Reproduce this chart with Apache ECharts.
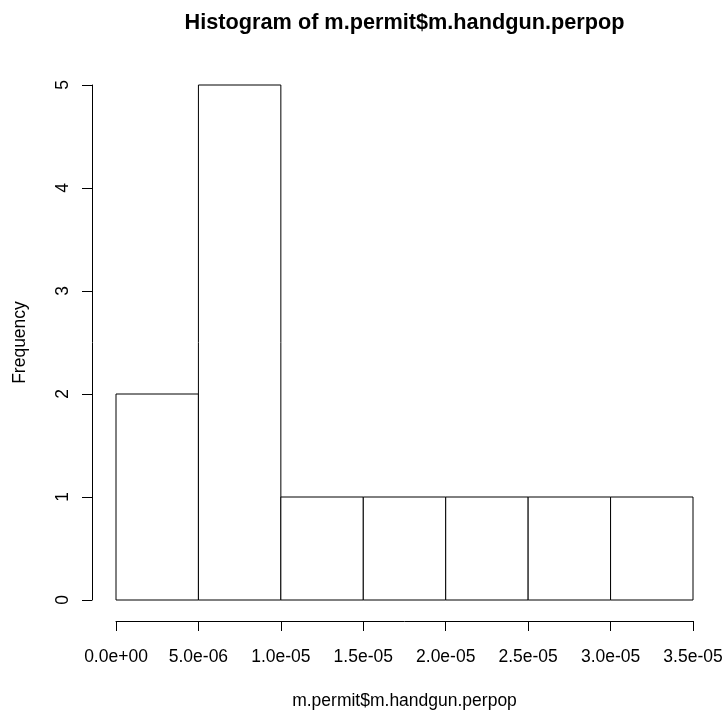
<!DOCTYPE html>
<html>
<head>
<meta charset="utf-8">
<script src="https://cdn.jsdelivr.net/npm/echarts@6/dist/echarts.min.js"></script>
<style>
html,body{margin:0;padding:0;background:#fff;}
#chart{width:727px;height:715px;}
</style>
</head>
<body>
<div id="chart"></div>
<script>
// Histogram bins (breaks) and counts
var breaks = [0, 5e-6, 1e-5, 1.5e-5, 2e-5, 2.5e-5, 3e-5, 3.5e-5];
var counts = [2, 5, 1, 1, 1, 1, 1];
var xTickLabels = ['0.0e+00','5.0e-06','1.0e-05','1.5e-05','2.0e-05','2.5e-05','3.0e-05','3.5e-05'];
var yTicks = [0, 1, 2, 3, 4, 5];
var titleText = 'Histogram of m.permit$m.handgun.perpop';
var xName = 'm.permit$m.handgun.perpop';
var yName = 'Frequency';

var binData = counts.map(function (c, i) { return [breaks[i], breaks[i + 1], c]; });
var font = 'Liberation Sans, Arial, sans-serif';
var xStep = breaks[1] - breaks[0];

var chart = echarts.init(document.getElementById('chart'), null, {renderer: 'canvas'});
chart.setOption({
  animation: false,
  backgroundColor: '#fff',
  title: {
    text: titleText,
    left: 404.5,
    top: 12,
    padding: 0,
    textAlign: 'center',
    textStyle: {fontFamily: font, fontSize: 21.7, fontWeight: 'bold', color: '#000'}
  },
  grid: {left: 116, right: 34, top: 85, bottom: 113, containLabel: false},
  xAxis: {
    type: 'value',
    min: breaks[0],
    max: breaks[breaks.length - 1],
    interval: xStep,
    offset: 21,
    name: xName,
    nameLocation: 'middle',
    nameGap: 71,
    nameTextStyle: {fontFamily: font, fontSize: 17.5, color: '#000'},
    axisLine: {show: true, onZero: false, lineStyle: {color: '#000', width: 1}},
    axisTick: {show: true, length: 10, lineStyle: {color: '#000'}},
    axisLabel: {
      show: true, margin: 27, fontFamily: font, fontSize: 17.5, color: '#000',
      formatter: function (v) {
        var idx = Math.round((v - breaks[0]) / xStep);
        return xTickLabels[idx] !== undefined ? xTickLabels[idx] : '';
      }
    },
    splitLine: {show: false}
  },
  yAxis: {
    type: 'value',
    min: yTicks[0],
    max: yTicks[yTicks.length - 1],
    interval: 1,
    offset: 24,
    name: yName,
    nameLocation: 'middle',
    nameGap: 63,
    nameTextStyle: {fontFamily: font, fontSize: 17.5, color: '#000'},
    axisLine: {show: true, onZero: false, lineStyle: {color: '#000', width: 1}},
    axisTick: {show: true, length: 10, lineStyle: {color: '#000'}},
    axisLabel: {show: true, rotate: 90, margin: 20, fontFamily: font, fontSize: 17.5, color: '#000'},
    splitLine: {show: false}
  },
  series: [{
    type: 'custom',
    data: binData,
    encode: {x: [0, 1], y: 2},
    renderItem: function (params, api) {
      var p0 = api.coord([api.value(0), 0]);
      var p1 = api.coord([api.value(1), api.value(2)]);
      return {
        type: 'rect',
        shape: {x: p0[0], y: p1[1], width: p1[0] - p0[0], height: p0[1] - p1[1]},
        style: {fill: '#fff', stroke: '#000', lineWidth: 1}
      };
    }
  }]
});
</script>
</body>
</html>
